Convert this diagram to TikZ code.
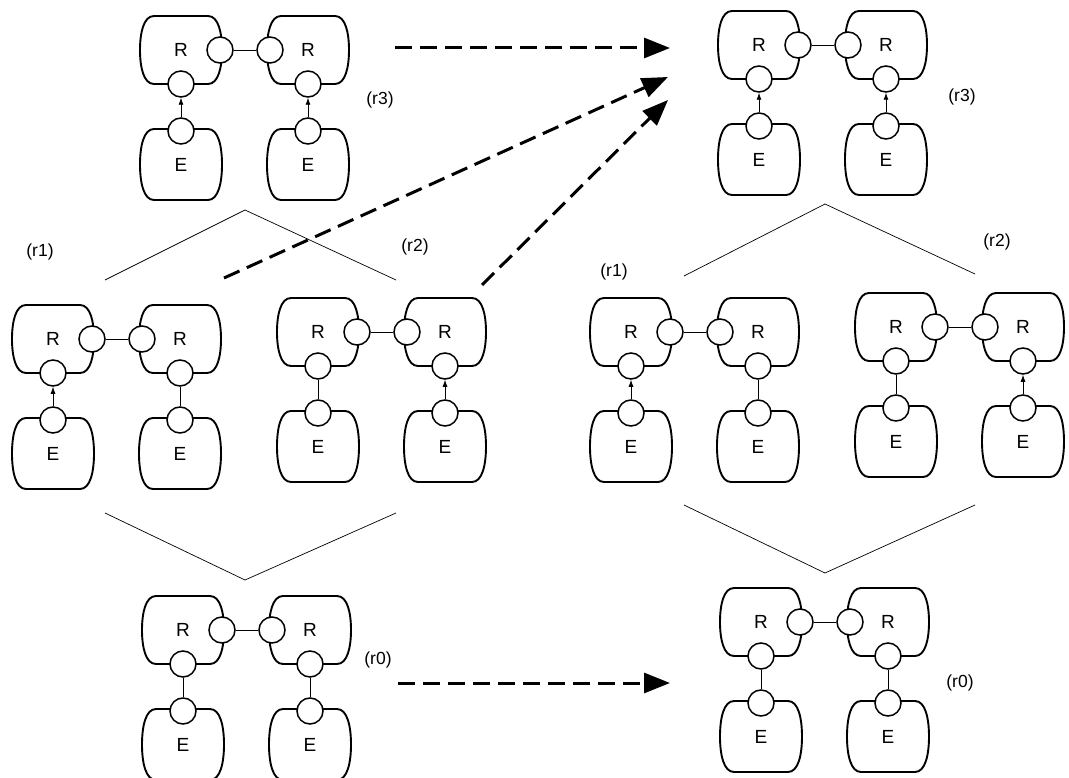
\documentclass[tikz,border=0pt]{standalone}
\usepackage{fontspec}
\setmainfont{Liberation Sans}
\usetikzlibrary{arrows.meta}
\tikzset{
  boxline/.style={line width=1.9pt, line join=round},
  port/.style={circle, draw, line width=1.5pt, fill=white, minimum size=26pt, inner sep=0pt},
  link/.style={line width=0.8pt},
  uparrow/.style={link, -{Latex[length=7pt,width=5pt]}},
  letter/.style={font=\fontsize{19}{19}\selectfont, inner sep=0pt},
  tag/.style={font=\fontsize{17.5}{17.5}\selectfont, inner sep=0pt},
  vline/.style={line width=0.7pt},
  bigarrow/.style={line width=3pt, dash pattern=on 17pt off 8pt, -{Triangle[length=26pt,width=20pt]}},
}
% barrel-shaped box: x0, y0 (top), width, height
\newcommand\barrelbox[4]{%
  \draw[boxline] (#1+14,#2) -- (#1+#3-14,#2)
    .. controls (#1+#3-3.5,#2) and (#1+#3,#2+#4/4) .. (#1+#3,#2+#4/2)
    .. controls (#1+#3,#2+3*#4/4) and (#1+#3-3.5,#2+#4) .. (#1+#3-14,#2+#4)
    -- (#1+14,#2+#4)
    .. controls (#1+3.5,#2+#4) and (#1,#2+3*#4/4) .. (#1,#2+#4/2)
    .. controls (#1,#2+#4/4) and (#1+3.5,#2) .. cycle;}
% group: name, gx, gy, left E->R style, right E->R style
\newcommand\robgroup[5]{%
  \begin{scope}[shift={(#2,#3)}]
    \barrelbox{0}{0}{82}{68}
    \barrelbox{127}{0}{82}{68}
    \barrelbox{0}{113}{82}{71}
    \barrelbox{127}{113}{82}{71}
    \node[letter] (#1-r1) at (41,34) {R};
    \node[letter] (#1-r2) at (168,34) {R};
    \node[letter] (#1-e1) at (41,149) {E};
    \node[letter] (#1-e2) at (168,149) {E};
    \node[port] (#1-pa) at (80,34) {};
    \node[port] (#1-pb) at (130,34) {};
    \node[port] (#1-pc) at (41,68) {};
    \node[port] (#1-pd) at (168,68) {};
    \node[port] (#1-pe) at (41,115) {};
    \node[port] (#1-pf) at (168,115) {};
    \draw[link] (#1-pa) -- (#1-pb);
    \draw[#4] (#1-pe) -- (#1-pc);
    \draw[#5] (#1-pf) -- (#1-pd);
  \end{scope}}
\begin{document}
\begin{tikzpicture}[x=1pt,y=-1pt]
\useasboundingbox (0,0) rectangle (1069,778);
% left column
\robgroup{A}{140}{16}{uparrow}{uparrow}
\robgroup{B}{12}{305}{uparrow}{link}
\robgroup{C}{277}{298}{link}{uparrow}
\robgroup{D}{142}{596}{link}{link}
% right column
\robgroup{E}{718}{11}{uparrow}{uparrow}
\robgroup{F}{590}{298}{uparrow}{link}
\robgroup{G}{855}{293}{link}{uparrow}
\robgroup{H}{720}{588}{link}{link}
% labels
\node[tag] (tA) at (380,100) {(r3)};
\node[tag] (tB) at (40,252) {(r1)};
\node[tag] (tC) at (415,247) {(r2)};
\node[tag] (tD) at (378,660) {(r0)};
\node[tag] (tE) at (962,97) {(r3)};
\node[tag] (tF) at (614,272) {(r1)};
\node[tag] (tG) at (997,242) {(r2)};
\node[tag] (tH) at (960,683) {(r0)};
% structure lines
\coordinate (v1a) at (105,280); \coordinate (v1b) at (245,210); \coordinate (v1c) at (396,280);
\coordinate (v2a) at (105,513); \coordinate (v2b) at (245,580); \coordinate (v2c) at (396,513);
\coordinate (v3a) at (684,276); \coordinate (v3b) at (825,204); \coordinate (v3c) at (975,274);
\coordinate (v4a) at (684,505); \coordinate (v4b) at (825,573); \coordinate (v4c) at (975,505);
\draw[vline] (v1a) -- (v1b) -- (v1c);
\draw[vline] (v2a) -- (v2b) -- (v2c);
\draw[vline] (v3a) -- (v3b) -- (v3c);
\draw[vline] (v4a) -- (v4b) -- (v4c);
% dashed arrows
\coordinate (d1s) at (395,48);  \coordinate (d1e) at (670,48);
\coordinate (d2s) at (224,278); \coordinate (d2e) at (668,77);
\coordinate (d3s) at (482,285); \coordinate (d3e) at (668,100);
\coordinate (d4s) at (398,683); \coordinate (d4e) at (670,683);
\draw[bigarrow] (d1s) -- (d1e);
\draw[bigarrow] (d2s) -- (d2e);
\draw[bigarrow] (d3s) -- (d3e);
\draw[bigarrow] (d4s) -- (d4e);
\end{tikzpicture}
\end{document}
